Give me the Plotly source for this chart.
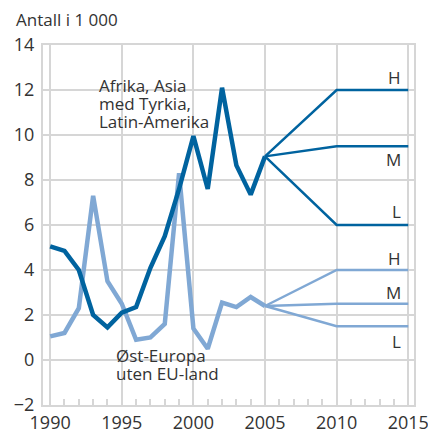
import plotly.graph_objects as go

years = list(range(1990, 2006))
afrika = [5.05, 4.85, 4.0, 2.0, 1.45, 2.1, 2.35, 4.1, 5.5, 7.6, 9.95, 7.6, 12.1, 8.65, 7.35, 9.05]
osteuropa = [1.05, 1.2, 2.3, 7.3, 3.5, 2.5, 0.9, 1.0, 1.6, 8.3, 1.4, 0.5, 2.55, 2.35, 2.8, 2.4]

proj_years = [2005, 2010, 2015]
afrika_H = [9.05, 12.0, 12.0]
afrika_M = [9.05, 9.5, 9.5]
afrika_L = [9.05, 6.0, 6.0]
ost_H = [2.4, 4.0, 4.0]
ost_M = [2.4, 2.5, 2.5]
ost_L = [2.4, 1.5, 1.5]

afrika_label = ["Afrika, Asia", "med Tyrkia,", "Latin-Amerika"]
ost_label = ["Øst-Europa", "uten EU-land"]

dark = "#00639f"
light = "#80a8d4"
grid = "#d6d6d6"
txt = "#333333"
font = "Open Sans"
fs = 18
fa = 17

fig = go.Figure()
for ys in (ost_H, ost_M, ost_L):
    fig.add_trace(go.Scatter(x=proj_years, y=ys, mode="lines",
                             line=dict(color=light, width=2.5), hoverinfo="skip"))
fig.add_trace(go.Scatter(x=years, y=osteuropa, mode="lines",
                         line=dict(color=light, width=4.5)))
for ys in (afrika_H, afrika_M, afrika_L):
    fig.add_trace(go.Scatter(x=proj_years, y=ys, mode="lines",
                             line=dict(color=dark, width=2.5), hoverinfo="skip"))
fig.add_trace(go.Scatter(x=years, y=afrika, mode="lines",
                         line=dict(color=dark, width=4.5)))

ann = []
for i, t in enumerate(afrika_label):
    ann.append(dict(x=1993.3, y=12.22, yshift=-18 * i, text=t, xanchor="left", yanchor="middle",
                    showarrow=False))
for i, t in enumerate(ost_label):
    ann.append(dict(x=1994.45, y=0.22, yshift=-18 * i, text=t, xanchor="left", yanchor="middle",
                    showarrow=False))
for lab, yy in (("H", 12.55), ("M", 8.9), ("L", 6.62), ("H", 4.53), ("M", 2.98), ("L", 0.84)):
    ann.append(dict(x=2014.65, y=yy, text=lab, xanchor="right", yanchor="middle",
                    showarrow=False))
for a in ann:
    a["font"] = dict(family=font, size=fa, color=txt)
    a["xref"] = "x"
    a["yref"] = "y"

fig.update_layout(
    width=428, height=432,
    margin=dict(l=43, r=14, t=45, b=27, autoexpand=False),
    paper_bgcolor="white", plot_bgcolor="white",
    showlegend=False,
    font=dict(family=font, size=fs, color=txt),
    title=dict(text="Antall i 1 000", x=16 / 428, xref="container", xanchor="left",
               y=1 - 20 / 432, yref="container", yanchor="middle",
               font=dict(family=font, size=fa, color=txt), pad=dict(l=0, r=0, t=0, b=0)),
    annotations=ann,
    xaxis=dict(range=[1989.5, 2015.4], tickmode="array", tickvals=[1990, 1995, 2000, 2005, 2010, 2015],
               showgrid=True, gridcolor=grid, gridwidth=2, zeroline=False, automargin=False,
               showline=True, linecolor=grid, linewidth=2, mirror=True, ticklabeloverflow="allow",
               ticks="", tickfont=dict(family=font, size=fs, color=txt),
               minor=dict(dtick=1, tick0=1990, ticks="inside", ticklen=6, tickcolor=grid,
                          tickwidth=2, showgrid=False)),
    yaxis=dict(range=[-2, 14], dtick=2, tick0=0, showgrid=True, gridcolor=grid, gridwidth=2,
               zeroline=False, showline=True, linecolor=grid, linewidth=2, mirror=True, automargin=False,
               ticklabeloverflow="allow", ticklabelstandoff=3,
               ticks="", tickfont=dict(family=font, size=fs, color=txt)),
)

fig.write_html(
    "out.html",
    config={"displayModeBar": False},
    post_script="document.body.style.margin='0';document.body.style.overflow='hidden';"
                "document.documentElement.style.overflow='hidden';",
)
